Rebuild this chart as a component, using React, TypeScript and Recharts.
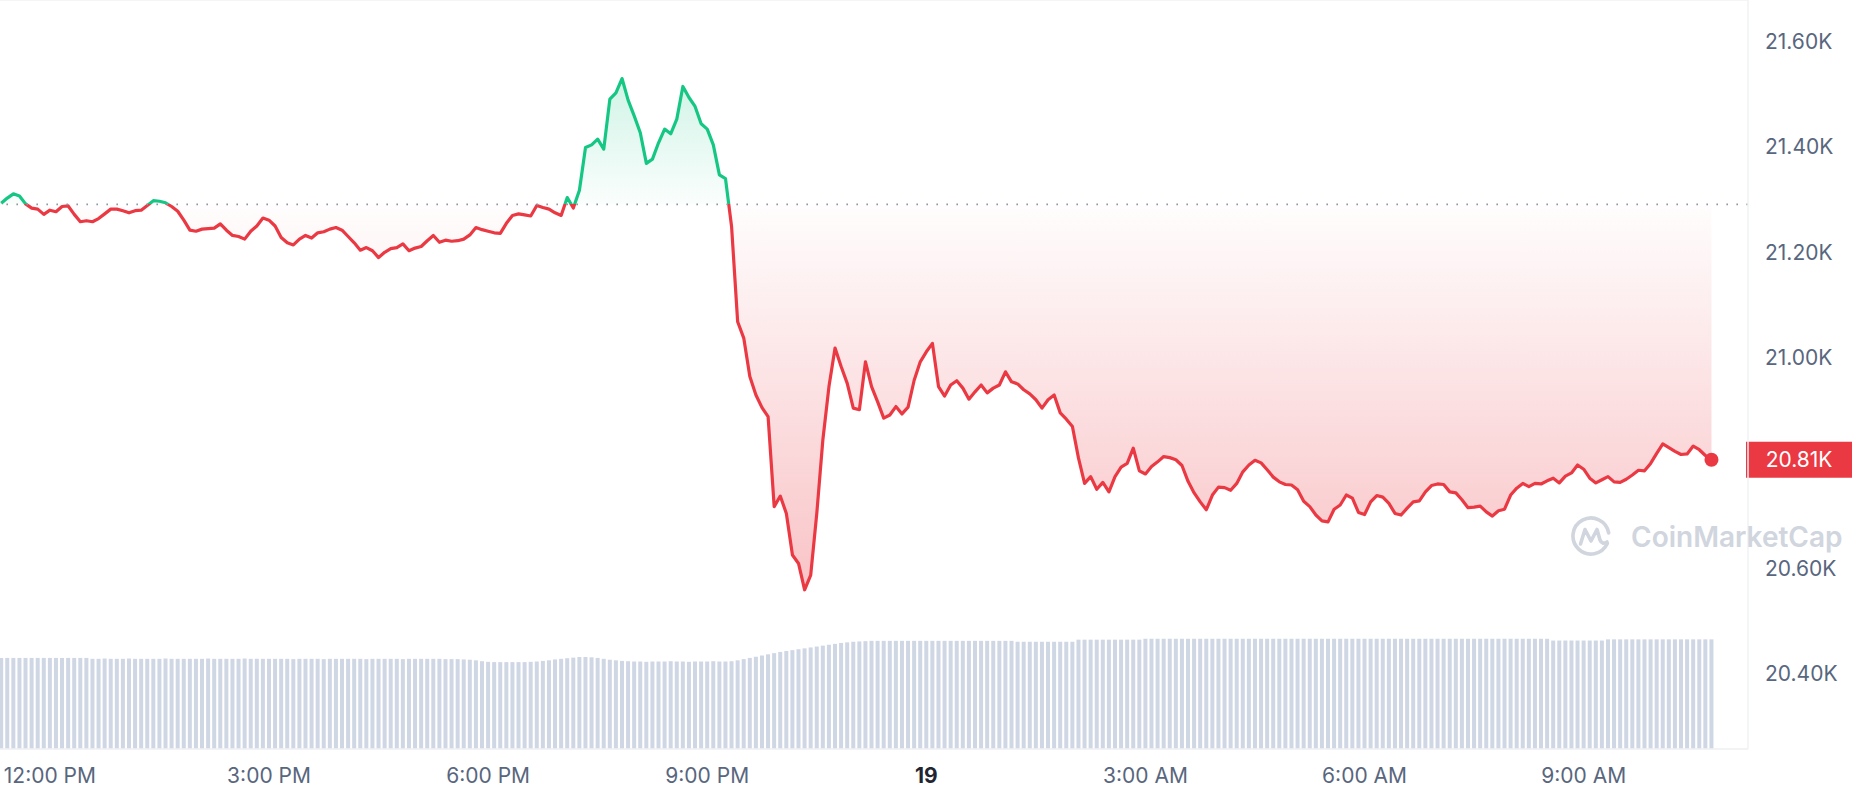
import React from 'react';
import {
  ComposedChart,
  Area,
  Bar,
  XAxis,
  YAxis,
  CartesianGrid,
  ReferenceLine,
  ReferenceDot,
} from 'recharts';

// Time: minutes relative to 12:00 PM (day 18), one sample every 5 minutes from 11:20 AM
const START_MINUTE = -40;
const STEP_MINUTES = 5;

// Price (USD)
const prices: number[] = [
  21293, 21303, 21311, 21307, 21292, 21284, 21282, 21272, 21280, 21277,
  21287, 21288, 21272, 21258, 21260, 21258, 21264, 21273, 21282, 21282,
  21279, 21275, 21279, 21280, 21289, 21298, 21297, 21294, 21287, 21278,
  21261, 21242, 21240, 21244, 21245, 21246, 21254, 21242, 21232, 21230,
  21225, 21240, 21250, 21265, 21261, 21250, 21228, 21218, 21214, 21225,
  21232, 21227, 21237, 21239, 21244, 21247, 21242, 21230, 21218, 21204,
  21209, 21203, 21190, 21200, 21207, 21209, 21216, 21203, 21208, 21211,
  21222, 21232, 21219, 21223, 21221, 21222, 21225, 21233, 21247, 21243,
  21240, 21237, 21236, 21255, 21270, 21273, 21271, 21269, 21289, 21285,
  21282, 21275, 21270, 21304, 21284, 21318, 21399, 21404, 21415, 21396,
  21491, 21503, 21530, 21489, 21459, 21427, 21369, 21377, 21408, 21434,
  21425, 21453, 21515, 21494, 21477, 21444, 21434, 21404, 21347, 21340,
  21249, 21068, 21037, 20964, 20929, 20905, 20888, 20717, 20737, 20704,
  20625, 20609, 20559, 20587, 20704, 20844, 20945, 21018, 20983, 20951,
  20904, 20901, 20992, 20945, 20916, 20885, 20891, 20907, 20893, 20906,
  20957, 20992, 21011, 21027, 20945, 20927, 20948, 20956, 20942, 20921,
  20935, 20948, 20933, 20942, 20948, 20973, 20954, 20950, 20939, 20931,
  20920, 20904, 20920, 20929, 20895, 20883, 20869, 20809, 20761, 20774,
  20750, 20763, 20745, 20774, 20792, 20799, 20828, 20785, 20779, 20793,
  20802, 20812, 20810, 20806, 20795, 20765, 20743, 20726, 20711, 20739,
  20754, 20753, 20748, 20761, 20783, 20796, 20805, 20800, 20787, 20773,
  20764, 20759, 20758, 20749, 20727, 20717, 20701, 20690, 20688, 20712,
  20720, 20739, 20733, 20706, 20702, 20726, 20738, 20735, 20723, 20704,
  20701, 20714, 20726, 20728, 20745, 20757, 20760, 20759, 20745, 20743,
  20730, 20715, 20716, 20718, 20707, 20699, 20709, 20712, 20739, 20752,
  20761, 20755, 20761, 20760, 20766, 20771, 20762, 20775, 20781, 20796,
  20788, 20771, 20762, 20768, 20774, 20764, 20763, 20769, 20777, 20786,
  20785, 20799, 20818, 20836, 20829, 20822, 20816, 20817, 20832, 20825,
  20814, 20806,
];

// 24h volume (billion USD)
const volumes: number[] = [
  30.4, 30.4, 30.4, 30.4, 30.4, 30.4, 30.4, 30.4, 30.4, 30.4, 30.4, 30.4, 30.4, 30.4, 30.4,
  30.1, 30.1, 30.2, 30.1, 30.1, 30.1, 30.2, 30.1, 30.1, 30.1, 30.1, 30.1, 30.2, 30.1, 30.1, 30.1,
  30.1, 30.1, 30.1, 30.2, 30.1, 30.1, 30.1, 30.1, 30.1, 30.2, 30.1, 30.1, 30.1, 30.1, 30.1,
  30.1, 30.1, 30.0, 30.1, 30.1, 30.1, 30.1, 30.0, 30.1, 30.1, 30.1, 30.1, 30.1, 30.1, 30.0, 30.1,
  30.1, 30.1, 30.1, 30.1, 30.0, 30.1, 30.1, 30.1, 30.1, 30.1, 30.1, 30.0, 30.0, 30.0, 29.9, 29.8,
  29.6, 29.3, 29.1, 29.0, 29.0, 29.0, 29.0, 29.0, 29.0, 29.1, 29.2, 29.4, 29.6, 29.9,
  30.1, 30.3, 30.5, 30.7, 30.7, 30.6, 30.4, 30.1, 29.8, 29.6, 29.4, 29.3,
  29.2, 29.2, 29.1, 29.2, 29.2, 29.2, 29.3, 29.2, 29.2, 29.1, 29.2, 29.2, 29.2, 29.3, 29.2, 29.2, 29.3,
  29.6, 30.0, 30.4, 30.8, 31.2, 31.6, 32.0, 32.4, 32.7, 33.0, 33.3, 33.6, 33.9, 34.2, 34.5,
  34.8, 35.1, 35.4, 35.6, 35.8, 35.9, 36.0,
  36.1, 36.1, 36.1, 36.1, 36.1, 36.1, 36.1, 36.1, 36.1, 36.1, 36.1, 36.1,
  36.1, 36.1, 36.1, 36.1, 36.1, 36.1, 36.1, 36.1, 36.1, 36.1, 36.1, 36.1,
  35.8, 35.8, 35.8, 35.8, 35.8, 35.8, 35.8, 35.8, 35.8, 35.8,
  36.5, 36.5, 36.5, 36.5, 36.5, 36.5, 36.5, 36.5, 36.5, 36.5, 36.5,
  36.8, 36.8, 36.8, 36.8, 36.8, 36.8, 36.8, 36.8, 36.8, 36.8,
  36.8, 36.8, 36.8, 36.8, 36.8, 36.8, 36.8, 36.8, 36.8, 36.8,
  36.8, 36.8, 36.8, 36.8, 36.8, 36.8, 36.8, 36.8, 36.8, 36.8,
  36.8, 36.8, 36.8, 36.8, 36.8, 36.8, 36.8, 36.8, 36.8, 36.8,
  36.8, 36.8, 36.8, 36.8, 36.8, 36.8, 36.8, 36.8, 36.8, 36.8,
  36.8, 36.8, 36.8, 36.8, 36.8, 36.8, 36.8, 36.8, 36.8, 36.8,
  36.8, 36.8, 36.8, 36.8, 36.8, 36.8, 36.8,
  36.2, 36.2, 36.2, 36.2, 36.2, 36.2, 36.2, 36.2, 36.2,
  36.6, 36.6, 36.6, 36.6, 36.6, 36.6, 36.6, 36.6, 36.6,
  36.6, 36.6, 36.6, 36.6, 36.6, 36.6, 36.6, 36.6, 36.6,
];

// Opening price of the 24h window (dotted reference line)
const OPEN_PRICE = 21291;

const xTicks = [0, 180, 360, 540, 720, 900, 1080, 1260];
const xTickLabels = ['12:00 PM', '3:00 PM', '6:00 PM', '9:00 PM', '19', '3:00 AM', '6:00 AM', '9:00 AM'];
const yTicks = [20400, 20600, 20800, 21000, 21200, 21400, 21600];

const X_DOMAIN: [number, number] = [-41, 1395];
const Y_DOMAIN: [number, number] = [20256.6, 21679.2];
const VOL_DOMAIN: [number, number] = [0, 250];

const GREEN = '#16c784';
const RED = '#ea3943';
const LABEL_GRAY = '#58667e';
const GRID = '#f1f2f4';
const FONT = 'Inter, "Noto Sans", sans-serif';

const data = prices.map((p, i) => ({
  t: START_MINUTE + i * STEP_MINUTES,
  price: p,
  volume: volumes[i],
}));

const last = data[data.length - 1];
const pMax = Math.max(...prices);
const pMin = Math.min(...prices);
const splitOffset = (pMax - OPEN_PRICE) / (pMax - pMin);

const fmtK = (v: number) => (v / 1000).toFixed(2) + 'K';

const XTick = (props: any) => {
  const { x, y, payload } = props;
  const idx = xTicks.indexOf(payload.value);
  const label = idx >= 0 ? xTickLabels[idx] : '';
  const bold = label === '19';
  return (
    <text
      x={x}
      y={y + 34}
      textAnchor="middle"
      fontSize={21}
      fontFamily={FONT}
      fontWeight={bold ? 700 : 400}
      fill={bold ? '#222531' : LABEL_GRAY}
    >
      {label}
    </text>
  );
};

// y tick labels; the one hidden behind the current-price tag is not drawn
const YTick = (props: any) => {
  const { x, y, payload } = props;
  if (Math.abs(payload.value - last.price) < 60) return <g />;
  return (
    <text
      x={x}
      y={y}
      textAnchor="start"
      dominantBaseline="central"
      fontSize={21}
      fontFamily={FONT}
      fill={LABEL_GRAY}
    >
      {fmtK(payload.value)}
    </text>
  );
};

const PriceTag = (props: any) => {
  const vb = props.viewBox || {};
  const right = vb.x + vb.width;
  const cy = vb.y;
  return (
    <g>
      <rect x={right - 2} y={cy - 18} width={106} height={36} fill={RED} />
      <text
        x={right + 51}
        y={cy}
        textAnchor="middle"
        dominantBaseline="central"
        fontSize={21}
        fontFamily={FONT}
        fill="#ffffff"
      >
        {fmtK(last.price)}
      </text>
    </g>
  );
};

export default function App() {
  return (
    <div
      style={{
        position: 'absolute',
        left: 0,
        top: 0,
        width: 1858,
        height: 800,
        background: '#ffffff',
        overflow: 'hidden',
      }}
    >
      <ComposedChart
        width={1858}
        height={800}
        data={data}
        margin={{ top: 0, right: 0, bottom: 0, left: 0 }}
      >
        <defs>
          <linearGradient id="strokeSplit" x1="0" y1="0" x2="0" y2="1">
            <stop offset={0} stopColor={GREEN} />
            <stop offset={splitOffset} stopColor={GREEN} />
            <stop offset={splitOffset} stopColor={RED} />
            <stop offset={1} stopColor={RED} />
          </linearGradient>
          <linearGradient id="fillSplit" x1="0" y1="0" x2="0" y2="1">
            <stop offset={0} stopColor={GREEN} stopOpacity={0.2} />
            <stop offset={splitOffset} stopColor={GREEN} stopOpacity={0.02} />
            <stop offset={splitOffset} stopColor={RED} stopOpacity={0.01} />
            <stop offset={1} stopColor={RED} stopOpacity={0.3} />
          </linearGradient>
        </defs>
        <CartesianGrid vertical={false} stroke={GRID} strokeWidth={1.5} />
        <XAxis
          dataKey="t"
          type="number"
          domain={X_DOMAIN}
          allowDataOverflow
          ticks={xTicks}
          interval={0}
          height={51}
          tickLine={false}
          tickSize={0}
          tickMargin={0}
          axisLine={{ stroke: GRID, strokeWidth: 1.5 }}
          tick={<XTick />}
        />
        <YAxis
          yAxisId="price"
          orientation="right"
          type="number"
          domain={Y_DOMAIN}
          allowDataOverflow
          ticks={yTicks}
          interval={0}
          width={110}
          tickLine={false}
          tickSize={0}
          tickMargin={17}
          axisLine={{ stroke: GRID, strokeWidth: 1.5 }}
          tick={<YTick />}
        />
        <YAxis yAxisId="vol" hide type="number" domain={VOL_DOMAIN} allowDataOverflow />
        <Bar
          yAxisId="vol"
          dataKey="volume"
          barSize={4}
          fill="#cfd6e4"
          isAnimationActive={false}
        />
        <ReferenceLine
          yAxisId="price"
          y={OPEN_PRICE}
          stroke="#8e96a3"
          strokeWidth={1.6}
          strokeDasharray="1.6 8.4"
        />
        <Area
          yAxisId="price"
          type="linear"
          dataKey="price"
          baseValue={OPEN_PRICE}
          stroke="url(#strokeSplit)"
          strokeWidth={3.2}
          strokeLinejoin="round"
          fill="url(#fillSplit)"
          fillOpacity={1}
          dot={false}
          activeDot={false}
          isAnimationActive={false}
        />
        <ReferenceLine
          yAxisId="price"
          y={last.price}
          stroke="none"
          label={<PriceTag />}
        />
        <ReferenceDot
          yAxisId="price"
          x={last.t}
          y={last.price}
          r={7}
          fill={RED}
          stroke="none"
        />
      </ComposedChart>
      <div
        style={{
          position: 'absolute',
          left: 1569,
          top: 514,
          width: 44,
          height: 44,
          pointerEvents: 'none',
        }}
      >
        <svg width={44} height={44} viewBox="0 0 44 44">
          <path
            d="M 38.3 29.6 A 18 18 0 1 1 39.7 18.9"
            fill="none"
            stroke="#d0d5de"
            strokeWidth={3.6}
            strokeLinecap="round"
          />
          <path
            d="M 11.5 30 L 16 15.5 L 22 27 L 28 15.5 L 31 26 Q 33 31 38 28"
            fill="none"
            stroke="#d0d5de"
            strokeWidth={3.6}
            strokeLinecap="round"
            strokeLinejoin="round"
          />
        </svg>
      </div>
      <div
        style={{
          position: 'absolute',
          left: 1631,
          top: 523,
          fontFamily: FONT,
          fontSize: 28,
          lineHeight: '28px',
          fontWeight: 600,
          color: '#d0d5de',
          whiteSpace: 'nowrap',
          pointerEvents: 'none',
        }}
      >
        CoinMarketCap
      </div>
    </div>
  );
}
